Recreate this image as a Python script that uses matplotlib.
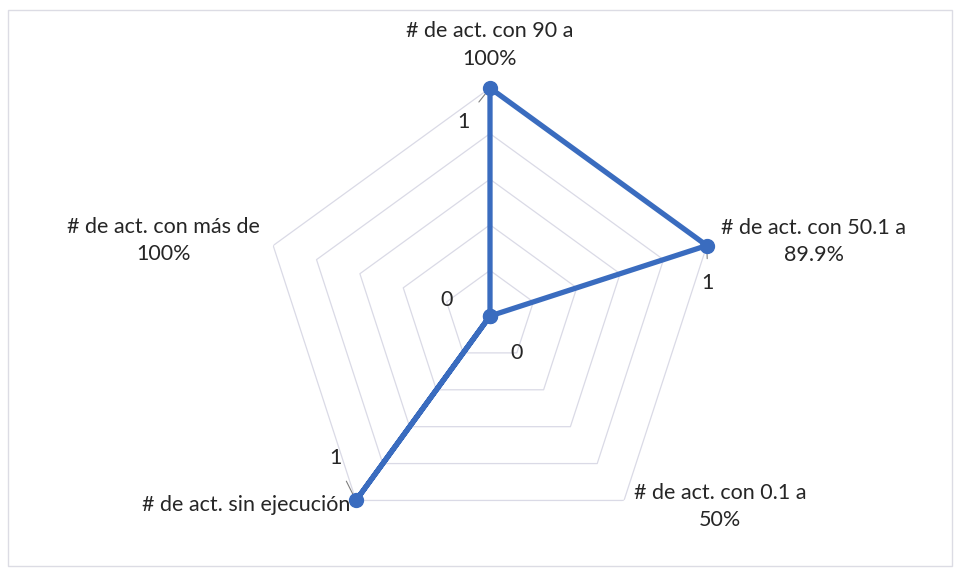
import numpy as np
import matplotlib
matplotlib.use("Agg")
import matplotlib.pyplot as plt
from matplotlib.patches import Rectangle

categories = ["# de act. con 90 a\n100%",
              "# de act. con 50.1 a\n89.9%",
              "# de act. con 0.1 a\n50%",
              "# de act. sin ejecución",
              "# de act. con más de\n100%"]
values = [1, 1, 0, 1, 0]
value_labels = ["1", "1", "0", "1", "0"]
ring_levels = [0.2, 0.4, 0.6, 0.8, 1.0]

plt.rcParams['font.family'] = ['Lato', 'DejaVu Sans']

fig = plt.figure(figsize=(9.62, 5.76), dpi=100)
fig.patch.set_facecolor("white")
fig.patches.append(Rectangle((8/962, 10/576), 944/962, 556/576, transform=fig.transFigure,
                             fill=False, edgecolor="#DCDCE4", linewidth=1.0))

ax = fig.add_axes([262/962, 32/576, 456/962, 456/576], projection="polar")
ax.set_theta_offset(np.pi / 2)
ax.set_theta_direction(-1)
ax.set_ylim(0, 1)
ax.grid(False)
ax.set_xticks([])
ax.set_yticks([])
ax.spines["polar"].set_visible(False)
ax.patch.set_alpha(0)

n = len(categories)
angles = np.linspace(0, 2 * np.pi, n, endpoint=False)
closed = np.concatenate([angles, angles[:1]])

for lv in ring_levels:
    ax.plot(closed, [lv] * (n + 1), color="#DADAE6", linewidth=0.9, zorder=1)

vals = np.array(values + values[:1], dtype=float)
col = "#3A6CBF"
ax.plot(closed, vals, color=col, linewidth=3.8, zorder=3, solid_joinstyle="round",
        solid_capstyle="round", clip_on=False)
ax.plot(angles, values, "o", color=col, markersize=10, zorder=4, clip_on=False)

# category labels
cat_offsets = [(0, 43), (107, 4), (96, -6), (-6, -5), (-110, 5)]
cat_ha = ["center", "center", "center", "right", "center"]
for a, lab, off, ha in zip(angles, categories, cat_offsets, cat_ha):
    ax.annotate(lab, xy=(a, 1.0), xytext=off, textcoords="offset pixels",
                ha=ha, va="center", fontsize=15.5, color="#262626",
                linespacing=1.45, annotation_clip=False)

# data labels
val_offsets = [(-27, -34), (1, -37), (27, -37), (-21, 42), (-43, 16)]
for a, v, lab, off in zip(angles, values, value_labels, val_offsets):
    ax.annotate(lab, xy=(a, v), xytext=off, textcoords="offset pixels",
                ha="center", va="center", fontsize=15.5, color="#262626",
                annotation_clip=False,
                arrowprops=(dict(arrowstyle="-", color="#7F7F7F", lw=0.8,
                                 shrinkA=8, shrinkB=5) if v > 0 else None))

fig.savefig("out.png", dpi=100, facecolor="white")
